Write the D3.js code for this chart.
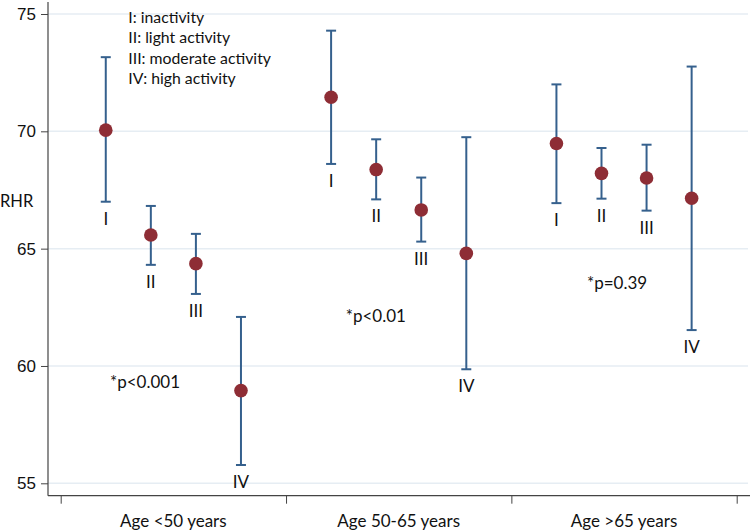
<!DOCTYPE html>
<html>
<head>
<meta charset="utf-8">
<script src="https://cdn.jsdelivr.net/npm/d3@7"></script>
<style>
  body { margin: 0; background: #fff; }
  svg { display: block; }
</style>
</head>
<body>
<svg width="750" height="530"></svg>
<script>
// Age groups and activity levels
const groups = ["Age <50 years", "Age 50-65 years", "Age >65 years"];
const levels = ["I", "II", "III", "IV"];
const pValues = ["*p<0.001", "*p<0.01", "*p=0.39"];
const legendLines = ["I: inactivity", "II: light activity", "III: moderate activity", "IV: high activity"];

// Mean RHR and 95% CI, one row per age group, one entry per activity level
const means = [
    [70.05, 65.58, 64.36, 58.95],
    [71.45, 68.37, 66.65, 64.80],
    [69.48, 68.21, 68.01, 67.15]
];
const upper = [
    [73.16, 66.82, 65.63, 62.09],
    [74.29, 69.66, 68.03, 69.75],
    [72.00, 69.29, 69.43, 72.76]
];
const lower = [
    [67.00, 64.31, 63.07, 55.78],
    [68.61, 67.10, 65.30, 59.86],
    [66.94, 67.13, 66.62, 61.53]
];
const pLabelY = [59.35, 62.15, 63.55];
const yTicks = [55, 60, 65, 70, 75];

const svg = d3.select("svg");

// Scales: 5 slots per group, points on slots 1..4
const x = d3.scaleLinear().domain([0, 15]).range([60.7, 736.7]);
const y = d3.scaleLinear().domain([55, 75]).range([483.3, 14]);
const xAxisY = 495.7;
const yAxisX = 48;

const barColor = "#35608d";
const dotColor = "#8e2d35";

// Gridlines
svg.append("g")
    .selectAll("line")
    .data(yTicks)
    .enter()
    .append("line")
    .attr("x1", yAxisX)
    .attr("x2", 748)
    .attr("y1", d => y(d))
    .attr("y2", d => y(d))
    .attr("stroke", "#e6edf3")
    .attr("stroke-width", 1.5);

// Y axis
const yAxis = svg.append("g")
    .attr("transform", `translate(${yAxisX},0)`)
    .call(d3.axisLeft(y).tickValues(yTicks).tickSize(7).tickPadding(5).tickFormat(d3.format("d")));
yAxis.select(".domain").remove();
yAxis.selectAll(".tick line").attr("stroke", "#444");
yAxis.selectAll(".tick text")
    .style("font-family", "'Liberation Sans', Arial, sans-serif")
    .style("font-size", "17px")
    .attr("fill", "#111");
svg.append("line")
    .attr("x1", yAxisX).attr("x2", yAxisX)
    .attr("y1", 2).attr("y2", xAxisY)
    .attr("stroke", "#444").attr("stroke-width", 1.2);

// X axis with boundary ticks
const xAxis = svg.append("g")
    .attr("transform", `translate(0,${xAxisY})`)
    .call(d3.axisBottom(x).tickValues([0, 5, 10, 15]).tickSize(8).tickFormat(""));
xAxis.select(".domain").remove();
xAxis.selectAll(".tick line").attr("stroke", "#444");
svg.append("line")
    .attr("x1", yAxisX).attr("x2", 750)
    .attr("y1", xAxisY).attr("y2", xAxisY)
    .attr("stroke", "#444").attr("stroke-width", 1.2);

const font = "Lato, 'Open Sans', sans-serif";

// Group labels
svg.append("g")
    .selectAll("text")
    .data(groups)
    .enter()
    .append("text")
    .attr("x", (d, i) => x(i * 5 + 2.5))
    .attr("y", 520)
    .attr("text-anchor", "middle")
    .attr("dominant-baseline", "central")
    .style("font-family", font)
    .style("font-size", "17px")
    .attr("fill", "#111")
    .text(d => d);

// Flatten to points
const points = [];
groups.forEach((g, gi) => {
    levels.forEach((l, li) => {
        points.push({
            slot: gi * 5 + li + 1,
            level: l,
            mean: means[gi][li],
            hi: upper[gi][li],
            lo: lower[gi][li]
        });
    });
});

const capW = 5;
const bars = svg.append("g")
    .selectAll("g")
    .data(points)
    .enter()
    .append("g");

bars.append("line")
    .attr("x1", d => x(d.slot)).attr("x2", d => x(d.slot))
    .attr("y1", d => y(d.hi)).attr("y2", d => y(d.lo))
    .attr("stroke", barColor).attr("stroke-width", 2);
bars.append("line")
    .attr("x1", d => x(d.slot) - capW).attr("x2", d => x(d.slot) + capW)
    .attr("y1", d => y(d.hi)).attr("y2", d => y(d.hi))
    .attr("stroke", barColor).attr("stroke-width", 2);
bars.append("line")
    .attr("x1", d => x(d.slot) - capW).attr("x2", d => x(d.slot) + capW)
    .attr("y1", d => y(d.lo)).attr("y2", d => y(d.lo))
    .attr("stroke", barColor).attr("stroke-width", 2);
bars.append("circle")
    .attr("cx", d => x(d.slot))
    .attr("cy", d => y(d.mean))
    .attr("r", 6.8)
    .attr("fill", dotColor);
bars.append("text")
    .attr("x", d => x(d.slot))
    .attr("y", d => y(d.lo) + 16.5)
    .attr("text-anchor", "middle")
    .attr("dominant-baseline", "central")
    .style("font-family", font)
    .style("font-size", "17px")
    .attr("fill", "#111")
    .text(d => d.level);

// p-values
svg.append("g")
    .selectAll("text")
    .data(pValues)
    .enter()
    .append("text")
    .attr("x", (d, i) => [110, 345.7, 587][i])
    .attr("y", (d, i) => y(pLabelY[i]))
    .attr("dominant-baseline", "central")
    .style("font-family", font)
    .style("font-size", "17px")
    .attr("fill", "#111")
    .text(d => d);

// Legend text
svg.append("g")
    .selectAll("text")
    .data(legendLines)
    .enter()
    .append("text")
    .attr("x", 128.3)
    .attr("y", (d, i) => 16 + i * 20.6)
    .attr("dominant-baseline", "central")
    .style("font-family", font)
    .style("font-size", "15.8px")
    .attr("fill", "#111")
    .text(d => d);

// Y title
svg.append("text")
    .attr("x", 0)
    .attr("y", 201)
    .attr("dominant-baseline", "central")
    .style("font-family", font)
    .style("font-size", "16.5px")
    .attr("fill", "#111")
    .text("RHR");
</script>
</body>
</html>
